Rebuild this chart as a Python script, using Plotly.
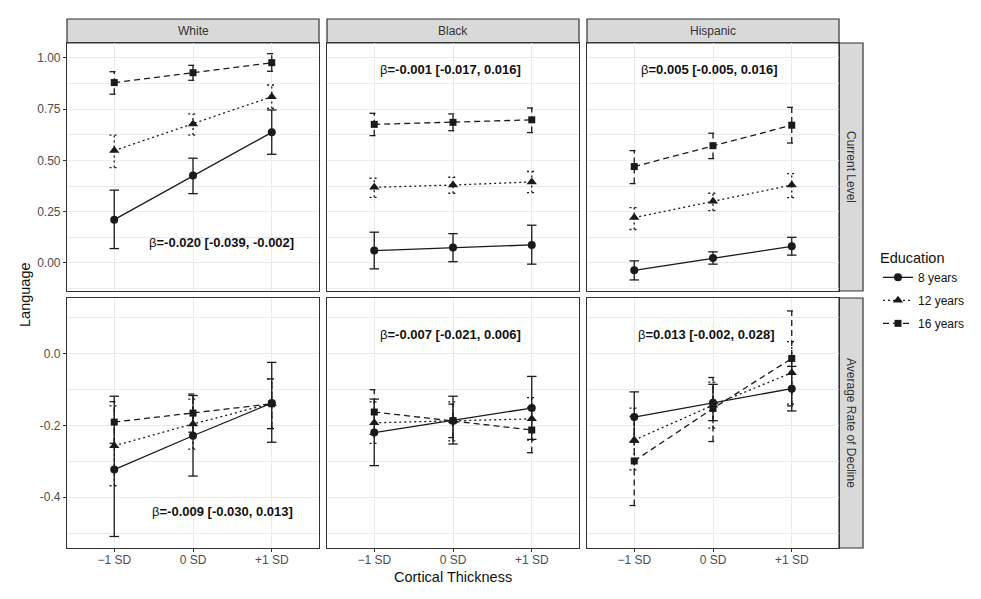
import plotly.graph_objects as go

# ---------------- data ----------------
x_cats = [1, 2, 3]
x_labels = ["\u22121 SD", "0 SD", "+1 SD"]
races = ["White", "Black", "Hispanic"]
outcomes = ["Current Level", "Average Rate of Decline"]
education = ["8 years", "12 years", "16 years"]

# rows: 8, 12, 16 years ; columns: -1 SD, 0 SD, +1 SD
white_level_est = [[0.211, 0.426, 0.637], [0.548, 0.678, 0.811], [0.880, 0.928, 0.977]]
white_level_lo = [[0.070, 0.338, 0.530], [0.465, 0.624, 0.754], [0.823, 0.891, 0.935]]
white_level_hi = [[0.355, 0.511, 0.746], [0.624, 0.727, 0.868], [0.933, 0.964, 1.021]]

black_level_est = [[0.060, 0.075, 0.088], [0.369, 0.380, 0.395], [0.676, 0.686, 0.698]]
black_level_lo = [[-0.029, 0.006, -0.006], [0.320, 0.340, 0.343], [0.621, 0.645, 0.636]]
black_level_hi = [[0.150, 0.143, 0.184], [0.413, 0.418, 0.446], [0.730, 0.727, 0.756]]

hisp_level_est = [[-0.036, 0.024, 0.081], [0.221, 0.301, 0.380], [0.470, 0.572, 0.672]]
hisp_level_lo = [[-0.083, -0.006, 0.038], [0.163, 0.255, 0.319], [0.387, 0.509, 0.585]]
hisp_level_hi = [[0.010, 0.054, 0.125], [0.270, 0.340, 0.436], [0.548, 0.633, 0.759]]

white_decl_est = [[-0.323, -0.229, -0.138], [-0.257, -0.196, -0.139], [-0.191, -0.166, -0.140]]
white_decl_lo = [[-0.509, -0.341, -0.247], [-0.368, -0.266, -0.209], [-0.250, -0.219, -0.209]]
white_decl_hi = [[-0.119, -0.117, -0.025], [-0.146, -0.127, -0.071], [-0.134, -0.113, -0.071]]

black_decl_est = [[-0.220, -0.187, -0.152], [-0.193, -0.187, -0.182], [-0.163, -0.187, -0.213]]
black_decl_lo = [[-0.312, -0.252, -0.239], [-0.250, -0.243, -0.241], [-0.225, -0.234, -0.276]]
black_decl_hi = [[-0.127, -0.119, -0.064], [-0.135, -0.135, -0.123], [-0.101, -0.141, -0.150]]

hisp_decl_est = [[-0.177, -0.137, -0.098], [-0.241, -0.144, -0.054], [-0.299, -0.153, -0.014]]
hisp_decl_lo = [[-0.247, -0.187, -0.160], [-0.324, -0.208, -0.141], [-0.423, -0.245, -0.146]]
hisp_decl_hi = [[-0.107, -0.086, -0.036], [-0.152, -0.080, 0.033], [-0.175, -0.067, 0.118]]

level_betas = ["-0.020 [-0.039, -0.002]", "-0.001 [-0.017, 0.016]", "0.005 [-0.005, 0.016]"]
decl_betas = ["-0.009 [-0.030, 0.013]", "-0.007 [-0.021, 0.006]", "0.013 [-0.002, 0.028]"]

# ---------------- layout / style ----------------
W, H = 981, 599
col_px = [(67, 319), (327, 579), (587, 839)]
row_px = [(43, 291), (298, 548)]
strip_top = (19, 43)
strip_right = (839, 863)
row_ranges = [[-0.137, 1.073], [-0.541, 0.154]]
row_ticks = [([0, 0.25, 0.5, 0.75, 1.0], ["0.00", "0.25", "0.50", "0.75", "1.00"], 0.125),
             ([-0.4, -0.2, 0.0], ["-0.4", "-0.2", "0.0"], 0.1)]
beta_pos = [[(2.36, 0.10), (1.97, 0.945), (1.95, 0.945)],
            [(2.38, -0.44), (1.97, 0.053), (1.92, 0.053)]]

symbols = ["circle", "triangle-up", "square"]
msizes = [8, 9, 7]
dashes = ["solid", "2px,3px", "6px,4px"]
ink = "#1a1a1a"
border = "#333333"
grid = "#EBEBEB"
font = "Liberation Sans, Arial, sans-serif"
cap_w = 0.06

data = [
    [(white_level_est, white_level_lo, white_level_hi),
     (black_level_est, black_level_lo, black_level_hi),
     (hisp_level_est, hisp_level_lo, hisp_level_hi)],
    [(white_decl_est, white_decl_lo, white_decl_hi),
     (black_decl_est, black_decl_lo, black_decl_hi),
     (hisp_decl_est, hisp_decl_lo, hisp_decl_hi)],
]
betas = [level_betas, decl_betas]


def px_x(p):
    return p / W


def px_y(p):
    return 1 - p / H


fig = go.Figure()
layout = {}
annotations = []
shapes = []

for r in range(2):
    for c in range(3):
        k = r * 3 + c + 1
        xs = "x" if k == 1 else f"x{k}"
        ys = "y" if k == 1 else f"y{k}"
        xa = "xaxis" if k == 1 else f"xaxis{k}"
        ya = "yaxis" if k == 1 else f"yaxis{k}"
        est, lo, hi = data[r][c]
        for g in range(3):
            # error bars
            ex, ey = [], []
            for i, xv in enumerate(x_cats):
                ex += [xv, xv, None, xv - cap_w, xv + cap_w, None, xv - cap_w, xv + cap_w, None]
                ey += [lo[g][i], hi[g][i], None, lo[g][i], lo[g][i], None, hi[g][i], hi[g][i], None]
            fig.add_trace(go.Scatter(x=ex, y=ey, mode="lines", xaxis=xs, yaxis=ys,
                                     line=dict(color=ink, width=1.3, dash=dashes[g]),
                                     showlegend=False, hoverinfo="skip"))
            fig.add_trace(go.Scatter(x=x_cats, y=est[g], mode="lines+markers", xaxis=xs, yaxis=ys,
                                     name=education[g], legendgroup=education[g],
                                     showlegend=(k == 1),
                                     line=dict(color=ink, width=1.3, dash=dashes[g]),
                                     marker=dict(symbol=symbols[g], size=msizes[g], color=ink)))
        x0, x1 = col_px[c]
        y0, y1 = row_px[r]
        layout[xa] = dict(domain=[px_x(x0), px_x(x1)], anchor=ys, range=[0.4, 3.6],
                          tickvals=x_cats, ticktext=x_labels,
                          showticklabels=(r == 1), ticks="outside" if r == 1 else "",
                          ticklen=3, tickcolor=border, ticklabelstandoff=-3,
                          tickfont=dict(size=12, color="#4D4D4D", family=font),
                          showgrid=True, gridcolor=grid, gridwidth=1.1,
                          showline=True, mirror=True, linecolor=border, linewidth=1.2,
                          zeroline=False, fixedrange=True)
        tv, tt, mdt = row_ticks[r]
        layout[ya] = dict(domain=[px_y(y1), px_y(y0)], anchor=xs, range=row_ranges[r],
                          tickvals=tv, ticktext=tt,
                          showticklabels=(c == 0), ticks="outside" if c == 0 else "",
                          ticklen=3, tickcolor=border,
                          tickfont=dict(size=12, color="#4D4D4D", family=font),
                          showgrid=True, gridcolor=grid, gridwidth=1.1,
                          minor=dict(dtick=mdt, tick0=0, showgrid=True, gridcolor=grid, gridwidth=0.6, ticks=""),
                          showline=True, mirror=True, linecolor=border, linewidth=1.2,
                          zeroline=False, fixedrange=True)
        bx, by = beta_pos[r][c]
        annotations.append(dict(x=bx, y=by, xref=xs, yref=ys, showarrow=False,
                                xanchor="center", yanchor="middle",
                                text="\u03b2<b>=" + betas[r][c] + "</b>",
                                font=dict(size=13, color="#111111", family=font)))

# top strips
for c in range(3):
    x0, x1 = col_px[c]
    shapes.append(dict(type="rect", xref="paper", yref="paper",
                       x0=px_x(x0), x1=px_x(x1), y0=px_y(strip_top[1]), y1=px_y(strip_top[0]),
                       fillcolor="#D9D9D9", line=dict(color=border, width=1.2), layer="below"))
    annotations.append(dict(x=px_x((x0 + x1) / 2), y=px_y((strip_top[0] + strip_top[1]) / 2),
                            xref="paper", yref="paper", showarrow=False, text=races[c],
                            xanchor="center", yanchor="middle",
                            font=dict(size=12, color="#333333", family=font)))
# right strips
for r in range(2):
    y0, y1 = row_px[r]
    shapes.append(dict(type="rect", xref="paper", yref="paper",
                       x0=px_x(strip_right[0]), x1=px_x(strip_right[1]), y0=px_y(y1), y1=px_y(y0),
                       fillcolor="#D9D9D9", line=dict(color=border, width=1.2), layer="below"))
    annotations.append(dict(x=px_x((strip_right[0] + strip_right[1]) / 2), y=px_y((y0 + y1) / 2),
                            xref="paper", yref="paper", showarrow=False, text=outcomes[r], textangle=90,
                            xanchor="center", yanchor="middle",
                            font=dict(size=12, color="#333333", family=font)))

# axis titles
annotations.append(dict(x=px_x(453), y=px_y(577), xref="paper", yref="paper", showarrow=False,
                        xanchor="center", yanchor="middle",
                        text="Cortical Thickness", font=dict(size=14.5, color="#111111", family=font)))
annotations.append(dict(x=px_x(25), y=px_y(295), xref="paper", yref="paper", showarrow=False,
                        xanchor="center", yanchor="middle",
                        text="Language", textangle=-90, font=dict(size=14.5, color="#111111", family=font)))

fig.update_layout(
    width=W, height=H, margin=dict(l=0, r=0, t=0, b=0),
    paper_bgcolor="white", plot_bgcolor="white",
    showlegend=True,
    legend=dict(x=px_x(878), y=px_y(244), xanchor="left", yanchor="top",
                title=dict(text="Education", font=dict(size=14.5, color="#111111", family=font)),
                font=dict(size=12, color="#111111", family=font),
                bgcolor="rgba(0,0,0,0)", itemwidth=30, tracegroupgap=4),
    annotations=annotations, shapes=shapes,
    **layout,
)

fig.write_html("out.html", config={"displayModeBar": False},
               post_script="document.body.style.margin='0px';")
